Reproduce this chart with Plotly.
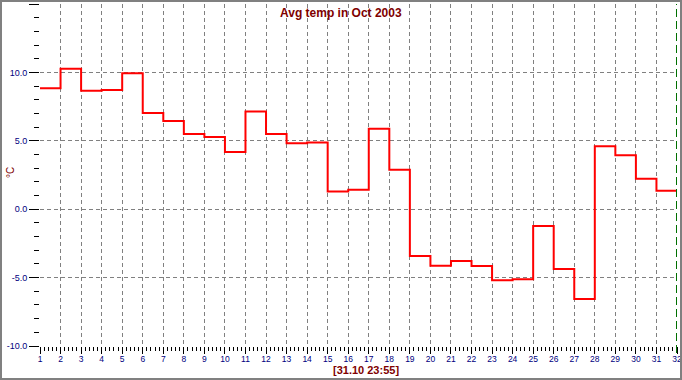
import plotly.graph_objects as go

days = list(range(1, 32))
temps = [8.85, 10.26, 8.65, 8.72, 9.93, 7.03, 6.44, 5.49, 5.27, 4.19,
         7.15, 5.49, 4.82, 4.88, 1.29, 1.42, 5.88, 2.89, -3.43, -4.13,
         -3.78, -4.15, -5.19, -5.12, -1.23, -4.37, -6.57, 4.6, 3.94, 2.23, 1.35]
x_ticks = list(range(1, 33))
y_ticks = [-10, -5, 0, 5, 10, 15]
y_labels = ["-10.0", "-5.0", "0.0", "5.0", "10.0", "15.0"]
title_text = "Avg temp in Oct 2003"
stamp_text = "[31.10 23:55]"
unit_text = "°C"

# step holds each day's value until the next day; close the last step at day 32
xs = days + [days[-1] + 1]
ys = temps + [temps[-1]]

W, H = 682, 380
L, R, T, B = 40, 5, 4, 34
pw, ph = W - L - R, H - T - B

def px_x(px):
    return (px - L) / pw

def px_y(py):
    return (H - B - py) / ph

fig = go.Figure()
fig.add_trace(go.Scatter(x=xs, y=ys, mode="lines", line=dict(color="#ff0000", width=2, shape="hv"),
                         hoverinfo="skip", showlegend=False))

navy = "#000080"
darkred = "#800000"
fig.update_layout(
    width=W, height=H,
    margin=dict(l=L, r=R, t=T, b=B, autoexpand=False),
    paper_bgcolor="white", plot_bgcolor="white",
    showlegend=False,
    xaxis=dict(range=[1, 32], tickvals=x_ticks, ticktext=[str(v) for v in x_ticks],
               ticks="outside", ticklen=7, tickwidth=1, tickcolor="black",
               tickfont=dict(family="Arial", size=8.5, color=navy), ticklabelstandoff=-2,
               showgrid=True, gridcolor="#808080", griddash="4px,3px", gridwidth=1,
               zeroline=False, showline=False, automargin=False, fixedrange=True,
               minor=dict(dtick=0.2, tick0=1, ticks="outside", ticklen=4, tickcolor="black", showgrid=False)),
    yaxis=dict(range=[-10, 15], tickvals=y_ticks, ticktext=y_labels,
               ticks="outside", ticklen=10, tickwidth=1, tickcolor="black",
               tickfont=dict(family="Arial", size=9, color=navy),
               showgrid=True, gridcolor="#808080", griddash="4px,3px", gridwidth=1,
               zeroline=False, showline=False, automargin=False, fixedrange=True,
               minor=dict(dtick=1, tick0=0, ticks="outside", ticklen=5, tickcolor="black", showgrid=False)),
)

# current-time marker at the right edge
fig.add_shape(type="line", xref="x", yref="paper", x0=32, x1=32, y0=px_y(353), y1=1,
              line=dict(color="#007000", width=2, dash="8px,4px"))

# outer frame
fig.add_shape(type="rect", xref="paper", yref="paper",
              x0=px_x(1), x1=px_x(681), y0=px_y(379), y1=px_y(1),
              line=dict(color="#808080", width=2), fillcolor="rgba(0,0,0,0)")

fig.add_annotation(text=title_text, xref="paper", yref="paper", x=px_x(341), y=px_y(13),
                   xanchor="center", yanchor="middle", showarrow=False,
                   font=dict(family="Arial", size=12, color=darkred, weight="bold"))
fig.add_annotation(text=stamp_text, xref="paper", yref="paper", x=px_x(366), y=px_y(370),
                   xanchor="center", yanchor="middle", showarrow=False,
                   font=dict(family="Arial", size=11, color=darkred, weight="bold"))
fig.add_annotation(text=unit_text, xref="paper", yref="paper", x=px_x(10), y=px_y(172),
                   xanchor="center", yanchor="middle", showarrow=False, textangle=-90,
                   font=dict(family="Arial", size=10, color=darkred))

fig.write_html("out.html", config={"displayModeBar": False},
               post_script="document.body.style.margin='0';document.body.style.overflow='hidden';")
